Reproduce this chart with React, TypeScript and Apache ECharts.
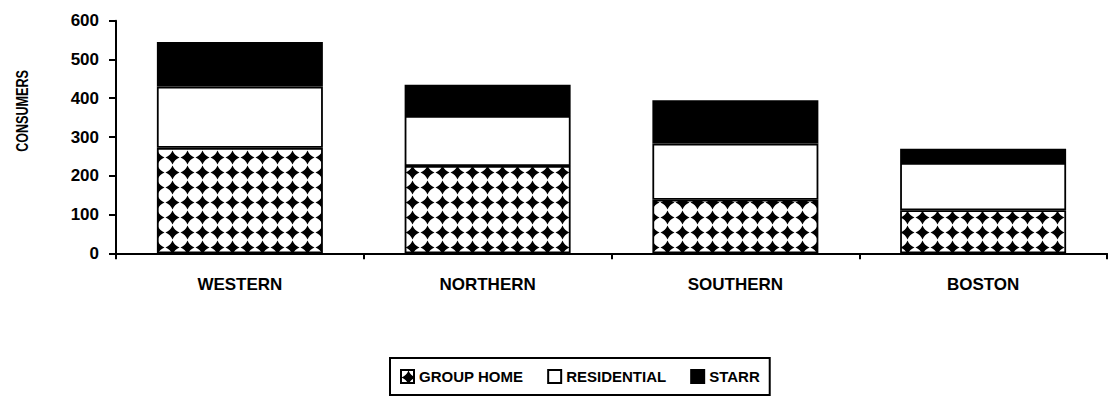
import React, { useEffect, useRef } from "react";
import * as echarts from "echarts";

const categories = ["WESTERN", "NORTHERN", "SOUTHERN", "BOSTON"];
const groupHome = [272, 225, 138, 111];
const residential = [158, 129, 145, 122];
const starr = [115, 81, 112, 37];
const yTicks = { min: 0, max: 600, interval: 100 };
const seriesNames = ["GROUP HOME", "RESIDENTIAL", "STARR"];
const yTitle = "CONSUMERS";

const FONT = '"Liberation Sans", Arial, Helvetica, sans-serif';

function makePattern(): HTMLCanvasElement {
  const s = 15;
  const c = document.createElement("canvas");
  c.width = s;
  c.height = s;
  const ctx = c.getContext("2d")!;
  ctx.fillStyle = "#fff";
  ctx.fillRect(0, 0, s, s);
  ctx.fillStyle = "#000";
  const m = s / 2;
  const h = 7.0;
  const k = 2.0;
  ctx.beginPath();
  ctx.moveTo(m, m - h);
  ctx.quadraticCurveTo(m + k, m - k, m + h, m);
  ctx.quadraticCurveTo(m + k, m + k, m, m + h);
  ctx.quadraticCurveTo(m - k, m + k, m - h, m);
  ctx.quadraticCurveTo(m - k, m - k, m, m - h);
  ctx.closePath();
  ctx.fill();
  return c;
}

export default function App() {
  const ref = useRef<HTMLDivElement>(null);
  useEffect(() => {
    document.body.style.margin = "0";
    const chart = echarts.init(ref.current!, null, { renderer: "svg" });
    const pattern = makePattern();
    const border = { borderColor: "#000", borderWidth: 1.8 };
    chart.setOption({
      animation: false,
      backgroundColor: "#fff",
      grid: { left: 116, right: 4, top: 20.7, bottom: 146.7 },
      legend: {
        data: seriesNames,
        left: 390,
        top: 358,
        orient: "horizontal",
        padding: [11, 10],
        itemGap: 24,
        itemWidth: 13,
        itemHeight: 13,
        borderColor: "#000",
        borderWidth: 2,
        borderRadius: 0,
        icon: "rect",
        textStyle: { fontFamily: FONT, fontWeight: "bold", fontSize: 15, color: "#000" },
      },
      graphic: [
        {
          type: "text",
          x: 22,
          y: 111,
          rotation: Math.PI / 2,
          scaleX: 0.74,
          style: {
            text: yTitle,
            fontFamily: FONT,
            fontWeight: "bold",
            fontSize: 17,
            fill: "#000",
            align: "center",
            verticalAlign: "middle",
          },
        },
      ],
      xAxis: {
        type: "category",
        data: categories,
        axisLine: { lineStyle: { color: "#000", width: 2 } },
        axisTick: { show: true, length: 6, lineStyle: { color: "#000", width: 2 } },
        axisLabel: { margin: 23, color: "#000", fontFamily: FONT, fontWeight: "bold", fontSize: 17 },
        splitLine: { show: false },
      },
      yAxis: {
        type: "value",
        min: yTicks.min,
        max: yTicks.max,
        interval: yTicks.interval,
        axisLine: { show: true, lineStyle: { color: "#000", width: 2 } },
        axisTick: { show: true, length: 7, lineStyle: { color: "#000", width: 2 } },
        axisLabel: { margin: 17, color: "#000", fontFamily: FONT, fontWeight: "bold", fontSize: 17 },
        splitLine: { show: false },
      },
      series: [
        {
          name: seriesNames[0],
          type: "bar",
          stack: "total",
          barWidth: "67%",
          data: groupHome,
          itemStyle: { color: { image: pattern, repeat: "repeat" }, ...border },
        },
        {
          name: seriesNames[1],
          type: "bar",
          stack: "total",
          barWidth: "67%",
          data: residential,
          itemStyle: { color: "#fff", ...border },
        },
        {
          name: seriesNames[2],
          type: "bar",
          stack: "total",
          barWidth: "67%",
          data: starr,
          itemStyle: { color: "#000", ...border },
        },
      ],
    });
    return () => chart.dispose();
  }, []);
  return <div ref={ref} style={{ width: 1111, height: 400 }} />;
}
